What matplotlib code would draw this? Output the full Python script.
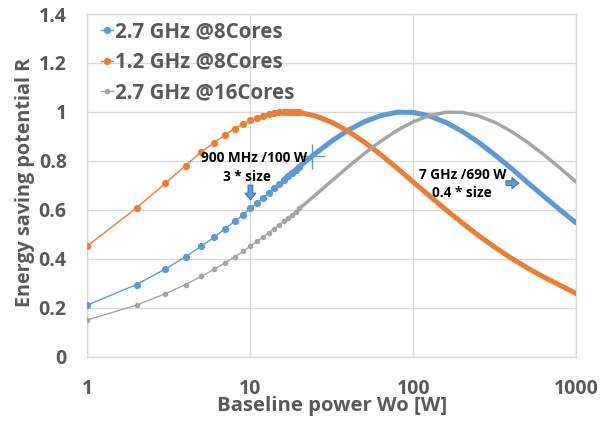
import matplotlib
matplotlib.use("Agg")
import matplotlib.pyplot as plt
from matplotlib.ticker import FixedLocator, FuncFormatter, NullLocator
import numpy as np

# baseline power sample points [W]
wo = [1, 2, 3, 4, 5, 6, 7, 8, 9, 10, 11, 12, 13, 14, 15, 16, 17, 18, 19, 20,
      25, 32, 40, 50, 63, 80, 100, 125, 160, 200, 250, 320, 400, 500, 630, 800, 1000]

# energy saving potential R per configuration
r_27_8 = [0.211, 0.295, 0.358, 0.408, 0.452, 0.489, 0.523, 0.553, 0.580, 0.606,
          0.629, 0.650, 0.670, 0.688, 0.705, 0.722, 0.737, 0.751, 0.764, 0.777,
          0.830, 0.884, 0.926, 0.960, 0.985, 0.999, 0.998, 0.984, 0.956, 0.920,
          0.877, 0.822, 0.769, 0.713, 0.656, 0.598, 0.546]
r_12_8 = [0.453, 0.608, 0.708, 0.781, 0.837, 0.875, 0.906, 0.932, 0.951, 0.966,
          0.976, 0.985, 0.992, 0.997, 0.998, 0.999, 1.000, 1.000, 0.999, 0.998,
          0.984, 0.956, 0.920, 0.877, 0.826, 0.769, 0.713, 0.658, 0.598, 0.546,
          0.496, 0.445, 0.402, 0.363, 0.326, 0.291, 0.258]
r_27_16 = [0.150, 0.211, 0.257, 0.295, 0.328, 0.358, 0.384, 0.408, 0.430, 0.452,
           0.471, 0.489, 0.507, 0.523, 0.538, 0.553, 0.567, 0.580, 0.593, 0.606,
           0.660, 0.722, 0.777, 0.830, 0.880, 0.926, 0.960, 0.985, 0.999, 0.998,
           0.984, 0.956, 0.920, 0.877, 0.826, 0.769, 0.713]

series_labels = ["2.7 GHz @8Cores", "1.2 GHz @8Cores", "2.7 GHz @16Cores"]
x_ticks = [1, 10, 100, 1000]
y_ticks = [0, 0.2, 0.4, 0.6, 0.8, 1.0, 1.2, 1.4]

# marked point on the 2.7 GHz @8Cores curve
mark_wo, mark_r = 24, 0.82

BLUE, ORANGE, GRAY = "#5B9BD5", "#ED7D31", "#A5A5A5"
TXT = "#595959"
GRID = "#D9D9D9"

plt.rcParams["font.family"] = ["Open Sans", "DejaVu Sans"]
plt.rcParams["font.weight"] = "bold"
plt.rcParams["axes.labelweight"] = "bold"

fig = plt.figure(figsize=(6.0, 4.21), dpi=100)
ax = fig.add_axes([0.1458, 0.1527, 0.8147, 0.814])

x = np.array(wo, dtype=float)
styles = [
    (r_27_8, BLUE, 4.2, 3.6, 16),
    (r_12_8, ORANGE, 4.2, 3.6, 14),
    (r_27_16, GRAY, 3.0, 2.5, 20),
]
handles = []
for (vals, col, ms, band, dense_from), lab in zip(styles, series_labels):
    y = np.array(vals)
    # single markers where they are still apart
    h, = ax.plot(x, y, color=col, lw=1.0, marker="o", ms=ms, mec=col, mfc=col,
                 markevery=list(np.where(x <= 20)[0]), label=lab, zorder=3)
    # markers merge into a solid band further right
    sel = x >= dense_from
    ax.plot(x[sel], y[sel], color=col, lw=band, solid_capstyle="round", zorder=3)
    handles.append(h)

ax.plot([mark_wo], [mark_r], marker="+", ms=18, mew=1.0, color=BLUE, zorder=4)

ax.set_xscale("log")
ax.set_xlim(1, 1000)
ax.set_ylim(0, 1.4)
ax.xaxis.set_major_locator(FixedLocator(x_ticks))
ax.xaxis.set_minor_locator(NullLocator())
ax.xaxis.set_major_formatter(FuncFormatter(lambda v, p: "%g" % v))
ax.yaxis.set_major_locator(FixedLocator(y_ticks))
ax.yaxis.set_major_formatter(FuncFormatter(lambda v, p: "%g" % v))
ax.tick_params(axis="both", length=0, labelsize=14, labelcolor=TXT)
ax.tick_params(axis="x", pad=15.8)
ax.tick_params(axis="y", pad=15)
for lbl in ax.get_xticklabels() + ax.get_yticklabels():
    lbl.set_fontweight("bold")
ax.grid(True, color=GRID, lw=1.0)
ax.set_axisbelow(True)
for s in ax.spines.values():
    s.set_color(GRID)
    s.set_linewidth(1.0)

ax.set_xlabel("Baseline power Wo [W]", fontsize=14.6, color=TXT, va="center")
ax.xaxis.set_label_coords(0.5, -0.145)
ax.set_ylabel("Energy saving potential R", fontsize=14.2, color=TXT, va="center")
ax.yaxis.set_label_coords(-0.128, 0.51)

leg = ax.legend(handles=handles, loc="upper left", bbox_to_anchor=(0.027, 0.978),
                frameon=False, fontsize=14.8, handlelength=0.62, handletextpad=0.1,
                labelspacing=0.45, borderpad=0, borderaxespad=0)
for t in leg.get_texts():
    t.set_color(TXT)
    t.set_fontweight("bold")

note_kw = dict(ha="center", va="center", fontsize=9.8, color="black",
               fontweight="bold", zorder=5)
ax.text(10.5, 0.811, "900 MHz /100 W", **note_kw)
ax.text(9.55, 0.735, "3 * size", **note_kw)
ax.text(200, 0.742, "7 GHz /690 W", **note_kw)
ax.text(199, 0.669, "0.4 * size", **note_kw)

arrow_props = dict(arrowstyle="simple,head_length=0.5,head_width=0.8,tail_width=0.35",
                   fc=BLUE, ec="#41719C", lw=0.7, mutation_scale=10,
                   shrinkA=0, shrinkB=0)
ax.annotate("", xy=(10, 0.640), xytext=(10, 0.701), arrowprops=arrow_props, zorder=5)
ax.annotate("", xy=(444, 0.709), xytext=(370, 0.709), arrowprops=arrow_props, zorder=5)

fig.savefig("out.png", dpi=100)
